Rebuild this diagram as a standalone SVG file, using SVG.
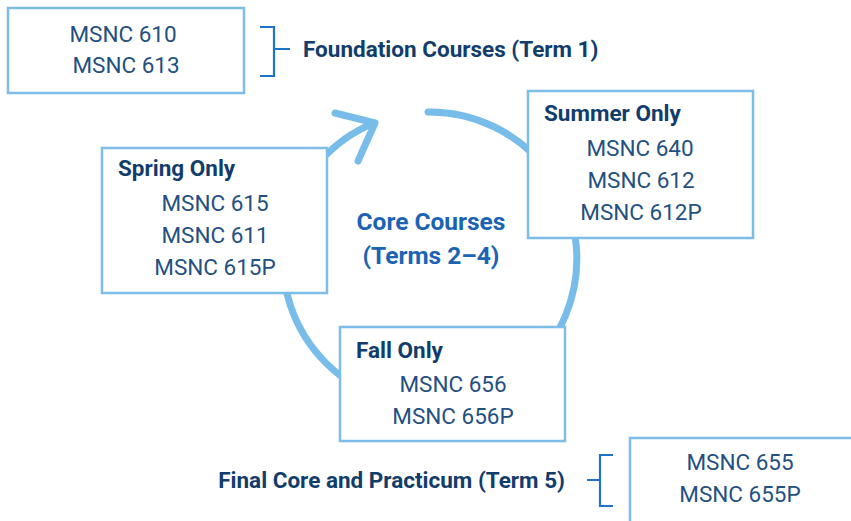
<svg xmlns="http://www.w3.org/2000/svg" width="851" height="521" viewBox="0 0 851 521">
<style>
.box{fill:#fff;stroke:#7dbde8;stroke-width:2.5}
.course{font-family:Roboto,"Liberation Sans",sans-serif;font-size:22.5px;fill:#24507f;text-anchor:middle}
.head{font-family:Roboto,"Liberation Sans",sans-serif;font-size:22.5px;font-weight:bold;fill:#123d6b}
.core{font-family:Roboto,"Liberation Sans",sans-serif;font-size:24.5px;font-weight:bold;fill:#1b63b5;text-anchor:middle}
.brk{fill:none;stroke:#1c74c6;stroke-width:2.2}
.cyc{fill:none;stroke:#78bde9;stroke-width:7;stroke-linecap:round;stroke-linejoin:round}
</style>
<rect width="851" height="521" fill="#fff"/>
<g id="connectors">
<path class="cyc" d="M428,112 A147,147 0 1 1 374,123"/>
<path class="cyc" d="M335,113 L375,123 L358,161"/>
<path class="brk" d="M260,27 H274 V76 H260 M274,49 H290"/>
<path class="brk" d="M613,455 H600 V506 H613 M600,480 H587"/>
</g>
<g id="foundation">
<rect class="box" x="8" y="8" width="236" height="85"/>
<text class="course" x="123" y="42">MSNC 610</text>
<text class="course" x="126" y="73">MSNC 613</text>
</g>
<g id="foundation-label">
<text class="head" x="303" y="57">Foundation Courses (Term 1)</text>
</g>
<g id="core-label">
<text class="core" x="431" y="230">Core Courses</text>
<text class="core" x="431" y="264">(Terms 2–4)</text>
</g>
<g id="summer">
<rect class="box" x="528" y="91" width="225" height="147"/>
<text class="head" x="544" y="121">Summer Only</text>
<text class="course" x="640" y="156">MSNC 640</text>
<text class="course" x="641" y="188">MSNC 612</text>
<text class="course" x="641" y="220">MSNC 612P</text>
</g>
<g id="spring">
<rect class="box" x="102" y="148" width="225" height="145"/>
<text class="head" x="118" y="176">Spring Only</text>
<text class="course" x="215" y="211">MSNC 615</text>
<text class="course" x="215" y="243">MSNC 611</text>
<text class="course" x="215" y="275">MSNC 615P</text>
</g>
<g id="fall">
<rect class="box" x="340" y="327" width="225" height="114"/>
<text class="head" x="356" y="358">Fall Only</text>
<text class="course" x="453" y="392">MSNC 656</text>
<text class="course" x="453" y="424">MSNC 656P</text>
</g>
<g id="final">
<rect class="box" x="630" y="438" width="230" height="95"/>
<text class="course" x="740" y="470">MSNC 655</text>
<text class="course" x="740" y="502">MSNC 655P</text>
</g>
<g id="final-label">
<text class="head" x="565" y="488" text-anchor="end">Final Core and Practicum (Term 5)</text>
</g>
</svg>
